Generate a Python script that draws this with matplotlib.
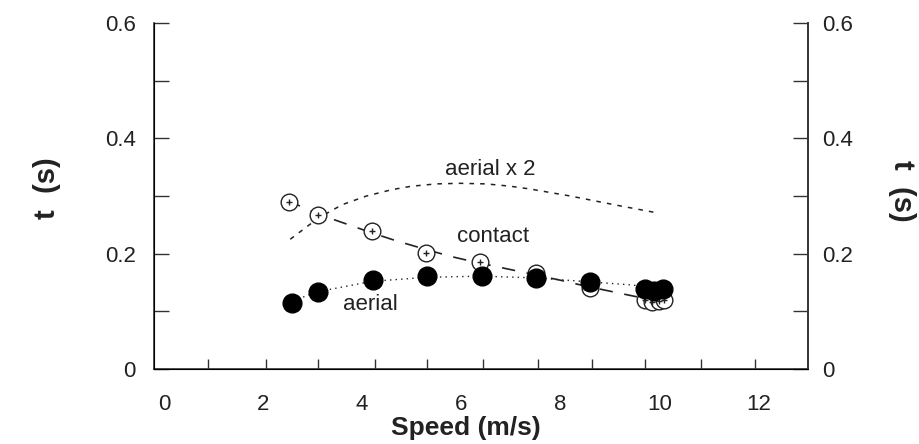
import numpy as np
import matplotlib
matplotlib.use("Agg")
import matplotlib.pyplot as plt

plt.rcParams['font.family'] = ['Liberation Sans', 'DejaVu Sans']

# measured points (speed in m/s, time in s)
aerial_x = [2.58, 3.12, 4.22, 5.31, 6.42, 7.52, 8.61, 9.72, 9.9, 10.08]
aerial_y = [0.114, 0.134, 0.154, 0.161, 0.161, 0.157, 0.151, 0.139, 0.135, 0.139]
contact_x = [2.53, 3.12, 4.20, 5.29, 6.38, 7.52, 8.61, 9.7, 9.85, 10.0, 10.1]
contact_y = [0.290, 0.267, 0.239, 0.202, 0.186, 0.166, 0.140, 0.120, 0.117, 0.118, 0.120]

# fitted curves
fit_aerial_x = [2.6, 3.1, 4.2, 5.3, 6.4, 7.5, 8.6, 9.4, 10.1]
fit_aerial_y = [0.118, 0.134, 0.152, 0.159, 0.161, 0.158, 0.151, 0.146, 0.140]
fit_aerial2_x = [2.55, 3.12, 3.6, 4.09, 4.6, 5.0, 5.5, 5.98, 6.5, 6.99, 7.4, 7.8, 8.2, 8.67, 9.2, 9.88]
fit_aerial2_y = [0.225, 0.262, 0.285, 0.300, 0.311, 0.317, 0.321, 0.322, 0.321, 0.317, 0.312, 0.306, 0.300, 0.292, 0.283, 0.272]
fit_contact_x = [2.5, 3.1, 3.7, 4.2, 4.7, 5.3, 5.8, 6.3, 6.8, 7.4, 8.0, 8.5, 9.0, 9.5, 10.1]
fit_contact_y = [0.292, 0.269, 0.251, 0.236, 0.222, 0.207, 0.195, 0.185, 0.176, 0.165, 0.154, 0.144, 0.135, 0.126, 0.117]

xticks = [0, 2, 4, 6, 8, 10, 12]
xtick_marks = [0.89, 2.06, 3.11, 4.26, 5.31, 6.44, 7.56, 8.65, 9.72, 10.85, 11.94]
yticks = [0, 0.2, 0.4, 0.6]
ytick_labels = ['0', '0.2', '0.4', '0.6']

ink = '#222222'

fig = plt.figure(figsize=(9.19, 4.44), dpi=100)
ax = fig.add_axes([154/919, 1 - 369/444, 654/919, 346/444])

ax.plot(fit_aerial2_x, fit_aerial2_y, color=ink, lw=1.1, dashes=(3, 4))
ax.plot(fit_contact_x, fit_contact_y, color=ink, lw=1.2, dashes=(8, 7))
ax.plot(fit_aerial_x, fit_aerial_y, color=ink, lw=1.0, dashes=(1, 3))

ax.plot(contact_x, contact_y, 'o', ms=12, mfc='white', mec=ink, mew=1.0, ls='none', zorder=3)
ax.plot(contact_x, contact_y, '+', ms=5, mec=ink, mew=1.0, ls='none', zorder=3)
ax.plot(aerial_x, aerial_y, 'o', ms=13.5, mfc='black', mec='black', ls='none', zorder=4)

ax.text(5.68, 0.336, 'aerial x 2', fontsize=16, color=ink, va='baseline')
ax.text(5.92, 0.220, 'contact', fontsize=16, color=ink, va='baseline')
ax.text(3.62, 0.102, 'aerial', fontsize=16, color=ink, va='baseline')

ax.set_xlim(-0.2, 13.0)
ax.set_ylim(0, 0.6)
ax.spines['top'].set_visible(False)
for s in ['left', 'right', 'bottom']:
    ax.spines[s].set_color('#333333')
    ax.spines[s].set_linewidth(1.2)

ax.set_xticks(xticks)
ax.set_xticklabels([str(v) for v in xticks], fontsize=16, color=ink)
ax.tick_params(axis='x', which='major', length=0, pad=18)
ax.set_xticks(xtick_marks, minor=True)
ax.tick_params(axis='x', which='minor', direction='in', length=7, width=1, color='#333333')

ax.set_yticks(yticks)
ax.set_yticklabels(ytick_labels, fontsize=16, color=ink)
ax.set_yticks([0.1, 0.3, 0.5], minor=True)
ax.tick_params(axis='y', which='both', direction='in', length=11, width=1,
               color='#333333', pad=13)

ax2 = ax.twinx()
ax2.set_ylim(0, 0.6)
ax2.spines['top'].set_visible(False)
ax2.spines['right'].set_color('#333333')
ax2.spines['right'].set_linewidth(1.2)
ax2.set_yticks(yticks)
ax2.set_yticklabels(ytick_labels, fontsize=16, color=ink)
ax2.set_yticks([0.1, 0.3, 0.5], minor=True)
ax2.tick_params(axis='y', which='both', direction='in', length=11, width=1,
                color='#333333', pad=10)

ax.set_xlabel('Speed (m/s)', fontsize=19, fontweight='bold', color=ink)
ax.xaxis.set_label_coords((466 - 154) / 654, -0.136)

fig.text(47/919, 1 - 188/444, 't  (s)', rotation=90, ha='center', va='center',
         fontsize=21, fontweight='bold', color=ink)
fig.text(902/919, 1 - 191/444, 't  (s)', rotation=270, ha='center', va='center',
         fontsize=21, fontweight='bold', color=ink)

fig.savefig('out.png', dpi=100)
